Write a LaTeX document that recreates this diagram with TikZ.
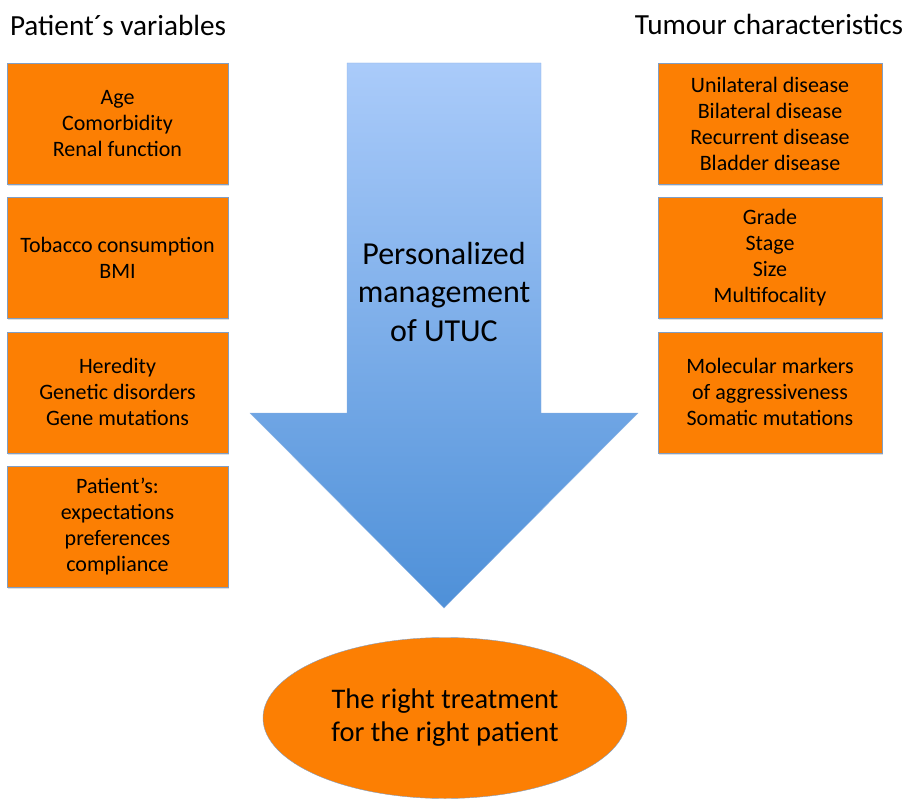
\documentclass[tikz,border=0pt]{standalone}
\usepackage{fontspec}
\setmainfont{Carlito}
\usepackage{tikz}
\usetikzlibrary{positioning,shapes.geometric,shadows}

\definecolor{boxorange}{RGB}{252,127,3}
\definecolor{boxedge}{RGB}{128,158,196}
\definecolor{arrowtop}{RGB}{170,203,250}
\definecolor{arrowbot}{RGB}{78,144,216}
\definecolor{arrowedge}{RGB}{140,178,226}

\tikzset{
  factor/.style={draw=boxedge,fill=boxorange,thin,align=center,
    minimum height=121pt,inner sep=2pt,
    font=\fontsize{22}{26}\selectfont,
    drop shadow={opacity=0.25,shadow xshift=1pt,shadow yshift=-2pt}},
  heading/.style={font=\fontsize{29.2}{34}\selectfont},
}

\begin{document}
\begin{tikzpicture}[x=1pt,y=-1pt]
  \useasboundingbox (0,0) rectangle (903,800);

  % column headings
  \node[heading] (patient) at (118,25) {Patient´s variables};
  \node[heading] (tumour) at (769,24) {Tumour characteristics};

  % patient's variables
  \node[factor,minimum width=221pt] (age) at (117.5,123.5) {Age\\Comorbidity\\Renal function};
  \node[factor,minimum width=221pt,below=13pt of age] (tobacco) {Tobacco consumption\\BMI};
  \node[factor,minimum width=221pt,below=13pt of tobacco] (heredity) {Heredity\\Genetic disorders\\Gene mutations};
  \node[factor,minimum width=221pt,below=13pt of heredity] (wishes) {Patient’s:\\expectations\\preferences\\compliance};

  % tumour characteristics
  \node[factor,minimum width=224pt] (side) at (770,123.5) {Unilateral disease\\Bilateral disease\\Recurrent disease\\Bladder disease};
  \node[factor,minimum width=224pt,below=13pt of side] (grade) {Grade\\Stage\\Size\\Multifocality};
  \node[factor,minimum width=224pt,below=13pt of grade] (markers) {Molecular markers\\of aggressiveness\\Somatic mutations};

  % big arrow in the middle
  \shade[top color=arrowtop,bottom color=arrowbot,draw=arrowedge,thin]
    (347,63) -- (541,63) -- (541,413) -- (638,413) -- (444,608)
    -- (250,413) -- (347,413) -- cycle;
  \node[align=center,font=\fontsize{32}{38.5}\selectfont] (utuc) at (444,292)
    {Personalized\\management\\of UTUC};

  % outcome
  \node[ellipse,draw=boxedge,fill=boxorange,thin,minimum width=364pt,
    minimum height=161pt,inner sep=0pt,align=center,
    font=\fontsize{28.4}{33}\selectfont] (result) at (445,718)
    {The right treatment\\for the right patient};
\end{tikzpicture}
\end{document}
